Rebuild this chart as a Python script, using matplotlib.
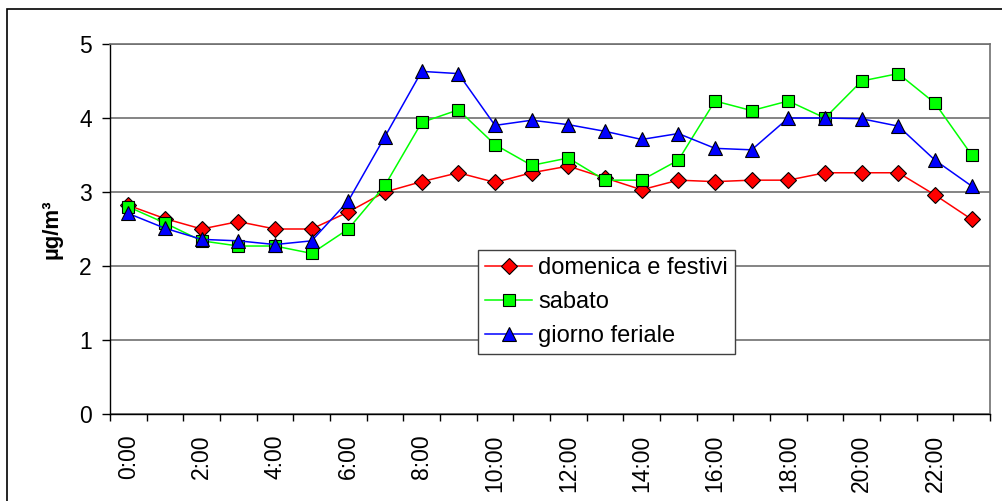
import matplotlib
matplotlib.use("Agg")
import matplotlib.pyplot as plt
from matplotlib.patches import Rectangle

plt.rcParams['font.family'] = ['Liberation Sans', 'DejaVu Sans']

hours = [f"{h}:00" for h in range(24)]

domenica = [2.82, 2.64, 2.50, 2.60, 2.50, 2.50, 2.73, 3.00, 3.14, 3.26, 3.13, 3.26,
            3.35, 3.19, 3.03, 3.16, 3.14, 3.16, 3.16, 3.26, 3.26, 3.26, 2.96, 2.63]
sabato = [2.80, 2.58, 2.34, 2.27, 2.27, 2.17, 2.50, 3.09, 3.94, 4.11, 3.64, 3.36,
          3.46, 3.16, 3.16, 3.43, 4.23, 4.10, 4.23, 4.00, 4.50, 4.60, 4.20, 3.50]
feriale = [2.71, 2.51, 2.36, 2.34, 2.29, 2.34, 2.88, 3.75, 4.63, 4.60, 3.90, 3.97,
           3.91, 3.82, 3.71, 3.79, 3.59, 3.57, 4.00, 4.00, 3.99, 3.89, 3.43, 3.08]

fig = plt.figure(figsize=(10.02, 5.01), dpi=100)
ax = fig.add_axes([110 / 1002, 1 - 414 / 501, 880 / 1002, 370 / 501])

x = list(range(len(hours)))
ax.plot(x, domenica, color='#ff0000', lw=1.1, marker='D', ms=8,
        mfc='#ff0000', mec='black', mew=0.8, label='domenica e festivi', zorder=3)
ax.plot(x, sabato, color='#00ff00', lw=1.1, marker='s', ms=8.5,
        mfc='#00ff00', mec='black', mew=0.8, label='sabato', zorder=4)
ax.plot(x, feriale, color='#0000ff', lw=1.1, marker='^', ms=10,
        mfc='#0000ff', mec='black', mew=0.8, label='giorno feriale', zorder=5)

ax.set_xlim(-0.5, 23.5)
ax.set_ylim(0, 5)
ax.set_yticks(range(6))
ax.yaxis.grid(True, color='#707070', lw=1.2)
ax.set_axisbelow(True)

# ticks between categories, labels every two hours
ax.set_xticks([i - 0.5 for i in range(25)])
ax.set_xticklabels([])
ax.set_xticks(x[::2], minor=True)
ax.set_xticklabels(hours[::2], minor=True, rotation=90)
ax.tick_params(axis='x', which='major', length=5, direction='out', width=1)
ax.tick_params(axis='x', which='minor', length=0, pad=15, labelsize=16.5)
ax.tick_params(axis='y', length=6, width=1, labelsize=16.5, pad=7)

for s in ['top', 'right']:
    ax.spines[s].set_color('#707070')
    ax.spines[s].set_linewidth(1.2)
for s in ['left', 'bottom']:
    ax.spines[s].set_color('black')
    ax.spines[s].set_linewidth(1.0)

ax.set_ylabel('µg/m³', fontsize=16, fontweight='bold', labelpad=12)

leg = ax.legend(loc='lower left', bbox_to_anchor=(0.418, 0.162), fontsize=17,
                frameon=True, fancybox=False, edgecolor='#404040', framealpha=1,
                handlelength=2.0, handletextpad=0.25, labelspacing=0.5,
                borderpad=0.3, borderaxespad=0)
leg.get_frame().set_linewidth(1.0)

fig.add_artist(Rectangle((7 / 1002, -0.1), 1.2, 1.1 - 9 / 501,
                         transform=fig.transFigure, fill=False,
                         edgecolor='black', lw=1.2))

fig.savefig('out.png', dpi=100)
